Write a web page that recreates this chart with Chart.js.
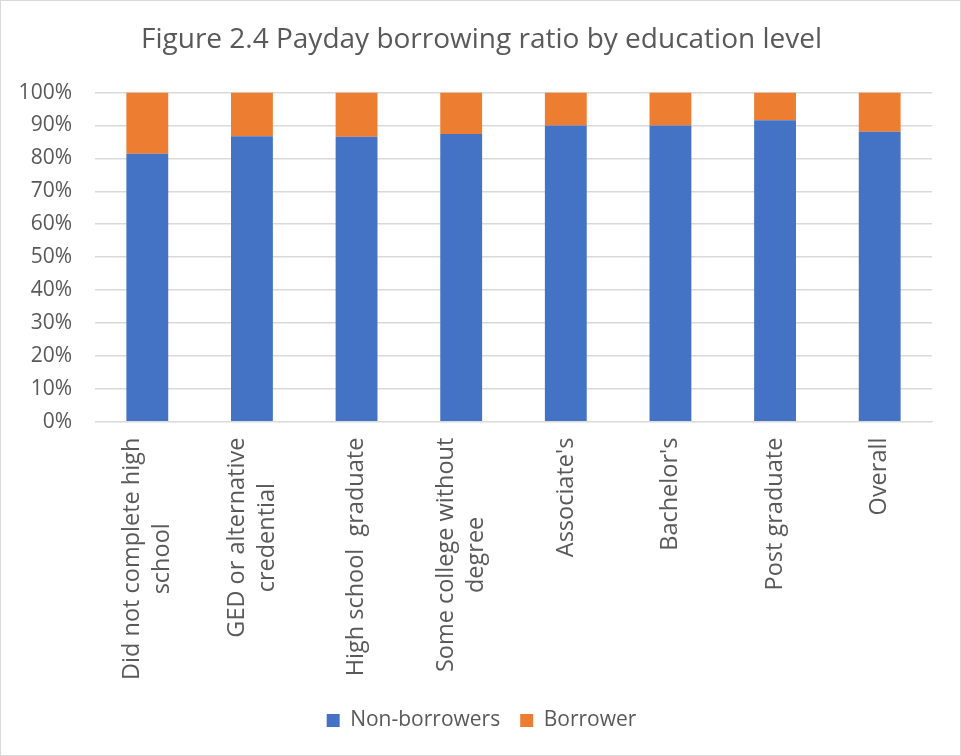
<!DOCTYPE html>
<html lang="en">
<head>
  <meta charset="UTF-8" />
  <title>Payday borrowing ratio by education level</title>
  <script src="https://cdn.jsdelivr.net/npm/chart.js"></script>
  <style>
    html, body { margin: 0; padding: 0; background: #fff; }
    .quadro {
      width: 961px;
      height: 756px;
      box-sizing: border-box;
      border: 1px solid #d9d9d9;
      position: relative;
    }
  </style>
</head>
<body>
  <div class="quadro"><canvas id="grafico"></canvas></div>

  <script>
    // categorias (linhas quebradas como no original)
    const categorias = [
      ["Did not complete high", "school"],
      ["GED or alternative", "credential"],
      ["High school  graduate"],
      ["Some college without", "degree"],
      ["Associate's"],
      ["Bachelor's"],
      ["Post graduate"],
      ["Overall"]
    ];
    const naoTomadores = [81.4, 86.7, 86.6, 87.4, 90.0, 90.0, 91.6, 88.1];
    const tomadores = [18.6, 13.3, 13.4, 12.6, 10.0, 10.0, 8.4, 11.9];
    const ticksY = [0, 10, 20, 30, 40, 50, 60, 70, 80, 90, 100];

    const fonte = '"Open Sans", sans-serif';
    const cinza = '#595959';
    const tamX = 23.5;

    // rótulos do eixo x: girados, linhas centralizadas entre si, bloco encostado no eixo
    const rotulosX = {
      id: 'rotulosX',
      beforeDraw(chart) {
        // o eixo y é mais estreito que os rótulos; não recortar o "100%"
        chart.scales.y._computeLabelArea = () => undefined;
      },
      afterDraw(chart) {
        const xs = chart.scales.x;
        const ctx = chart.ctx;
        const alt = 30;
        ctx.save();
        ctx.font = tamX + 'px ' + fonte;
        ctx.fillStyle = cinza;
        ctx.textAlign = 'center';
        ctx.textBaseline = 'middle';
        categorias.forEach((linhas, i) => {
          const x = xs.getPixelForTick(i);
          const larg = Math.max(...linhas.map(l => ctx.measureText(l).width));
          ctx.save();
          ctx.translate(x, xs.top + 16);
          ctx.rotate(-Math.PI / 2);
          linhas.forEach((l, j) => {
            ctx.fillText(l, -larg / 2, (j - (linhas.length - 1) / 2) * alt);
          });
          ctx.restore();
        });
        ctx.restore();
      }
    };

    new Chart(document.getElementById('grafico'), {
      type: 'bar',
      data: {
        labels: categorias,
        datasets: [
          { label: 'Non-borrowers', data: naoTomadores, backgroundColor: '#4472C4', barPercentage: 1, categoryPercentage: 0.4 },
          { label: 'Borrower', data: tomadores, backgroundColor: '#ED7D31', barPercentage: 1, categoryPercentage: 0.4 }
        ]
      },
      options: {
        responsive: true,
        maintainAspectRatio: false,
        animation: false,
        layout: { padding: { left: 30, right: 28, top: 22, bottom: 14 } },
        plugins: {
          title: {
            display: true,
            text: 'Figure 2.4 Payday borrowing ratio by education level',
            color: cinza,
            font: { family: fonte, size: 28, weight: 'normal' },
            padding: { top: 0, bottom: 36 }
          },
          legend: {
            position: 'bottom',
            labels: {
              color: cinza,
              font: { family: fonte, size: 21 },
              boxWidth: 13,
              boxHeight: 13,
              padding: 20
            }
          },
          tooltip: { enabled: false }
        },
        scales: {
          x: {
            stacked: true,
            grid: { display: false },
            border: { color: '#d9d9d9' },
            ticks: {
              // só reserva o espaço; o desenho é feito pelo plugin
              color: 'transparent',
              font: { family: fonte, size: tamX },
              minRotation: 90,
              maxRotation: 90,
              autoSkip: false,
              padding: 9,
              callback: (v, i) => categorias[i].reduce((a, b) => (b.length > a.length ? b : a))
            }
          },
          y: {
            stacked: true,
            min: 0,
            max: 100,
            afterBuildTicks: ax => { ax.ticks = ticksY.map(v => ({ value: v })); },
            afterFit: ax => { ax.width = 64; },
            grid: { color: '#d9d9d9', lineWidth: 1.5, drawTicks: false },
            border: { display: false },
            ticks: {
              color: cinza,
              font: { family: fonte, size: 21 },
              padding: 23,
              callback: v => v + '%'
            }
          }
        }
      },
      plugins: [rotulosX]
    });
  </script>
</body>
</html>
